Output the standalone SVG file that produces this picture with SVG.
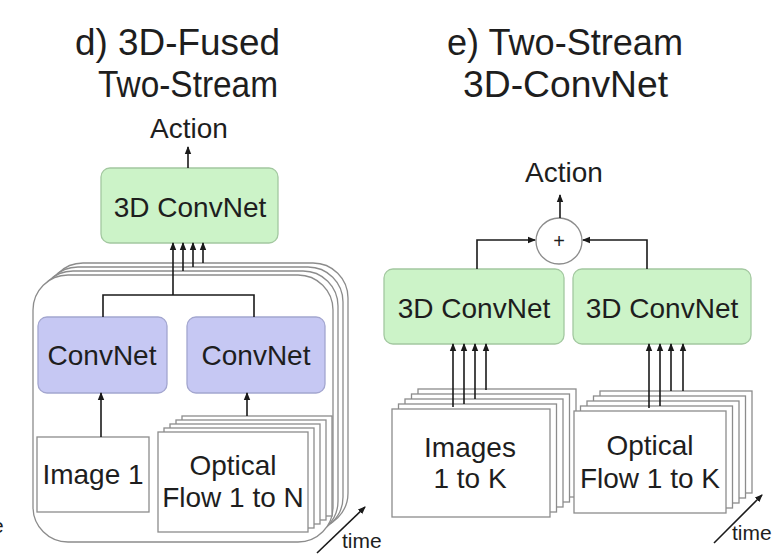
<svg xmlns="http://www.w3.org/2000/svg" width="777" height="559" viewBox="0 0 777 559">
<defs>
<marker id="ah" markerUnits="userSpaceOnUse" markerWidth="8" markerHeight="8" viewBox="0 0 8 8" refX="7" refY="4" orient="auto">
<path d="M0,0.8 L8,4 L0,7.2 Z" fill="#1a1a1a"/>
</marker>
</defs>
<style>
text{font-family:"Liberation Sans",Arial,sans-serif;fill:#1e1e1e}
.title{font-size:36px}
.lbl{font-size:28px;text-anchor:middle}
.small{font-size:21px}
.sheet{fill:#fff;stroke:#8c8c8c;stroke-width:1.3}
.green{fill:#ccf3c8;stroke:#a3c8a0;stroke-width:1.3}
.purple{fill:#c6c8f3;stroke:#a3a6cf;stroke-width:1.3}
.conn{fill:none;stroke:#1a1a1a;stroke-width:1.6}
.arr{fill:none;stroke:#1a1a1a;stroke-width:1.6;marker-end:url(#ah)}
</style>
<rect width="777" height="559" fill="#fff"/>

<text class="small" x="-8" y="533">e</text>

<g id="titles">
<text class="title" x="75" y="55" textLength="205" lengthAdjust="spacingAndGlyphs">d) 3D-Fused</text>
<text class="title" x="98" y="97" textLength="180" lengthAdjust="spacingAndGlyphs">Two-Stream</text>
<text class="title" x="447" y="55" textLength="236" lengthAdjust="spacingAndGlyphs">e) Two-Stream</text>
<text class="title" x="463" y="97" textLength="205" lengthAdjust="spacingAndGlyphs">3D-ConvNet</text>
</g>

<g id="d-timestack">
<rect class="sheet" x="48" y="263" width="300" height="265" rx="35"/>
<rect class="sheet" x="43" y="267" width="300" height="265" rx="35"/>
<rect class="sheet" x="38" y="271" width="300" height="265" rx="35"/>
<rect class="sheet" x="33" y="275" width="300" height="267" rx="35"/>
</g>

<g id="d-action"><text class="lbl" x="189" y="138">Action</text></g>
<g id="d-3dconvnet">
<rect class="green" x="101" y="168" width="177" height="75" rx="9"/>
<text class="lbl" x="190" y="217">3D ConvNet</text>
</g>
<g id="d-convnet-left">
<rect class="purple" x="38" y="317" width="129" height="76" rx="9"/>
<text class="lbl" x="102" y="365">ConvNet</text>
</g>
<g id="d-convnet-right">
<rect class="purple" x="187" y="317" width="138" height="76" rx="9"/>
<text class="lbl" x="256" y="365">ConvNet</text>
</g>
<g id="d-image1">
<rect class="sheet" x="37" y="437" width="112" height="75"/>
<text class="lbl" x="93" y="484">Image 1</text>
</g>
<g id="d-flow">
<rect class="sheet" x="182" y="416" width="150" height="100"/>
<rect class="sheet" x="176" y="420" width="150" height="100"/>
<rect class="sheet" x="170" y="424" width="150" height="100"/>
<rect class="sheet" x="164" y="428" width="150" height="100"/>
<rect class="sheet" x="158" y="432" width="150" height="100"/>
<text class="lbl" x="233" y="475">Optical</text>
<text class="lbl" x="233" y="507">Flow 1 to N</text>
</g>
<g id="d-time">
<line class="arr" x1="317" y1="553" x2="365" y2="507"/>
<text class="small" x="342" y="548">time</text>
</g>

<g id="e-action"><text class="lbl" x="564" y="182">Action</text></g>
<g id="e-sum">
<circle cx="559" cy="241" r="23" fill="#fff" stroke="#8c8c8c" stroke-width="1.3"/>
<text x="559" y="248" style="font-size:20px;text-anchor:middle">+</text>
</g>
<g id="e-3dconvnet-left">
<rect class="green" x="384" y="269" width="180" height="75" rx="9"/>
<text class="lbl" x="474" y="318">3D ConvNet</text>
</g>
<g id="e-3dconvnet-right">
<rect class="green" x="573" y="269" width="178" height="75" rx="9"/>
<text class="lbl" x="662" y="318">3D ConvNet</text>
</g>
<g id="e-images">
<rect class="sheet" x="418" y="389" width="158" height="108"/>
<rect class="sheet" x="411.5" y="394" width="158" height="108"/>
<rect class="sheet" x="405" y="399" width="158" height="108"/>
<rect class="sheet" x="398.5" y="404" width="158" height="108"/>
<rect class="sheet" x="392" y="409" width="158" height="108"/>
<text class="lbl" x="470" y="457">Images</text>
<text class="lbl" x="470" y="488">1 to K</text>
</g>
<g id="e-flow">
<rect class="sheet" x="600" y="391" width="152" height="102"/>
<rect class="sheet" x="593.5" y="396" width="152" height="102"/>
<rect class="sheet" x="587" y="401" width="152" height="102"/>
<rect class="sheet" x="580.5" y="406" width="152" height="102"/>
<rect class="sheet" x="574" y="411" width="152" height="102"/>
<text class="lbl" x="650" y="455">Optical</text>
<text class="lbl" x="650" y="488">Flow 1 to K</text>
</g>
<g id="e-time">
<line class="arr" x1="714" y1="543" x2="762" y2="495"/>
<text class="small" x="732" y="540">time</text>
</g>

<g id="connectors">
<line class="arr" x1="188" y1="168" x2="188" y2="147"/>
<line class="arr" x1="173" y1="295" x2="173" y2="243"/>
<line class="arr" x1="183" y1="271" x2="183" y2="243"/>
<line class="arr" x1="193" y1="267" x2="193" y2="243"/>
<line class="arr" x1="203" y1="263" x2="203" y2="243"/>
<path class="conn" d="M103,317 V295 H254 V317"/>
<line class="arr" x1="101" y1="437" x2="101" y2="393"/>
<line class="arr" x1="247" y1="416" x2="247" y2="393"/>

<line class="arr" x1="560" y1="218" x2="560" y2="195"/>
<path class="arr" d="M477,269 V240 H535"/>
<path class="arr" d="M647,269 V240 H583"/>
<line class="arr" x1="453" y1="407" x2="453" y2="344"/>
<line class="arr" x1="464" y1="404" x2="464" y2="344"/>
<line class="arr" x1="475" y1="399" x2="475" y2="344"/>
<line class="arr" x1="486" y1="390" x2="486" y2="344"/>
<line class="arr" x1="649" y1="408" x2="649" y2="344"/>
<line class="arr" x1="660" y1="406" x2="660" y2="344"/>
<line class="arr" x1="671" y1="391" x2="671" y2="344"/>
<line class="arr" x1="683" y1="391" x2="683" y2="344"/>
</g>
</svg>
